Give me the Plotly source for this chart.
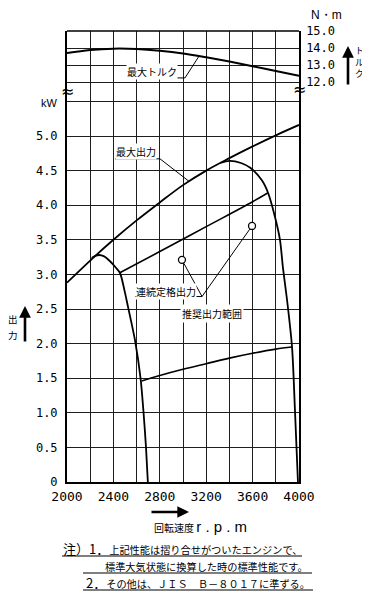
import numpy as np
import plotly.graph_objects as go

# ---------------- data ----------------
rpm = [2000, 2200, 2400, 2600, 2800, 3000, 3200, 3400, 3600, 3800, 4000]
torque_max = [13.70, 13.88, 13.96, 13.94, 13.84, 13.68, 13.45, 13.20, 12.93, 12.65, 12.36]
power_max = [2.88, 3.20, 3.50, 3.78, 4.04, 4.29, 4.50, 4.68, 4.85, 5.01, 5.16]

gov_low_rpm = [2213, 2250, 2276, 2320, 2371, 2420, 2457, 2494, 2526, 2586, 2634, 2660, 2681, 2697]
gov_low_kw = [3.24, 3.27, 3.28, 3.26, 3.19, 3.10, 3.02, 2.78, 2.53, 2.05, 1.50, 1.00, 0.50, 0.00]

gov_high_rpm = [3320, 3400, 3500, 3580, 3680, 3733, 3793, 3836, 3862, 3897, 3940, 3966, 3991]
gov_high_kw = [4.61, 4.64, 4.61, 4.54, 4.36, 4.18, 3.83, 3.50, 3.09, 2.63, 1.95, 1.00, 0.00]

rec_upper_rpm = [2451, 2800, 3200, 3600, 3733]
rec_upper_kw = [3.02, 3.33, 3.69, 4.05, 4.18]

rec_lower_rpm = [2643, 2800, 3000, 3200, 3400, 3600, 3800, 3940]
rec_lower_kw = [1.46, 1.54, 1.63, 1.71, 1.79, 1.86, 1.92, 1.95]

rated_rpm = [2991, 3595]
rated_kw = [3.21, 3.70]

kw_ticks = [0, 0.5, 1.0, 1.5, 2.0, 2.5, 3.0, 3.5, 4.0, 4.5, 5.0, 5.5]
kw_labels = ["0", "0.5", "1.0", "1.5", "2.0", "2.5", "3.0", "3.5", "4.0", "4.5", "5.0", ""]
nm_ticks = [12, 13, 14, 15]
nm_labels = ["12.0", "13.0", "14.0", "15.0"]
rpm_labels = ["2000", "", "2400", "", "2800", "", "3200", "", "3600", "", "4000"]

# ---------------- geometry helpers ----------------
BODY = 8                       # default page margin of the html body
L, R, T, B = 67, 299, 31, 482  # plot area in page pixels
W, H = 370, 599
PX_PER_RPM = (R - L) / 2000.0
PX_PER_KW = 69.2


def P(xp, yp):
    return (xp - L) / (R - L), (B - yp) / (B - T)


CJK = "Noto Sans CJK JP"
MONO = "DejaVu Sans Mono"

fig = go.Figure()

fig.add_trace(go.Scatter(x=rpm, y=torque_max, yaxis="y2", mode="lines",
                         line=dict(color="black", width=2, shape="spline"), hoverinfo="skip"))
fig.add_trace(go.Scatter(x=rpm, y=power_max, mode="lines",
                         line=dict(color="black", width=1.8, shape="spline"), hoverinfo="skip"))
fig.add_trace(go.Scatter(x=gov_low_rpm, y=gov_low_kw, mode="lines",
                         line=dict(color="black", width=1.8, shape="spline", smoothing=0.8), hoverinfo="skip"))
fig.add_trace(go.Scatter(x=gov_high_rpm, y=gov_high_kw, mode="lines",
                         line=dict(color="black", width=1.8, shape="spline", smoothing=0.8), hoverinfo="skip"))
fig.add_trace(go.Scatter(x=rec_upper_rpm, y=rec_upper_kw, mode="lines",
                         line=dict(color="black", width=1.6, shape="spline"), hoverinfo="skip"))
fig.add_trace(go.Scatter(x=rec_lower_rpm, y=rec_lower_kw, mode="lines",
                         line=dict(color="black", width=1.6, shape="spline"), hoverinfo="skip"))
fig.add_trace(go.Scatter(x=rated_rpm, y=rated_kw, mode="markers",
                         marker=dict(symbol="circle", size=7, color="white",
                                     line=dict(color="black", width=1.3)), hoverinfo="skip"))

THIN = dict(color="black", width=1)
shapes = []
# leader / underline for 最大トルク
tq_end = float(np.interp(3138, rpm, torque_max))
shapes.append(dict(type="line", xref="x", yref="y2", x0=2526, x1=3017, y0=12.24, y1=12.24, line=THIN))
shapes.append(dict(type="line", xref="x", yref="y2", x0=3017, x1=3138, y0=12.24, y1=tq_end, line=THIN))
# 最大出力
pw_end = float(np.interp(3052, rpm, power_max))
shapes.append(dict(type="line", xref="x", yref="y", x0=2414, x1=2802, y0=4.67, y1=4.67, line=THIN))
shapes.append(dict(type="line", xref="x", yref="y", x0=2802, x1=3052, y0=4.67, y1=pw_end, line=THIN))
# 連続定格出力
jx, jy = 3164, 2.68
shapes.append(dict(type="line", xref="x", yref="y", x0=2586, x1=jx, y0=jy, y1=jy, line=THIN))
for rx, ry in zip(rated_rpm, rated_kw):
    dxp = (rx - jx) * PX_PER_RPM
    dyp = (ry - jy) * PX_PER_KW
    d = np.hypot(dxp, dyp)
    f = (d - 4.0) / d  # stop at the edge of the circle marker
    shapes.append(dict(type="line", xref="x", yref="y", x0=jx, y0=jy,
                       x1=jx + (rx - jx) * f, y1=jy + (ry - jy) * f, line=THIN))
# 推奨出力範囲 underline
shapes.append(dict(type="line", xref="x", yref="y", x0=3000, x1=3509, y0=2.33, y1=2.33, line=THIN))
# top frame
shapes.append(dict(type="line", xref="paper", yref="paper", x0=0, x1=1, y0=1, y1=1,
                   line=dict(color="black", width=1.5)))
# note underlines
for x0p, x1p, yp in [(62, 302, 556), (83, 312, 573), (83, 313, 590)]:
    a = P(x0p, yp)
    b = P(x1p, yp)
    shapes.append(dict(type="line", xref="paper", yref="paper", x0=a[0], x1=b[0], y0=a[1], y1=b[1],
                       line=dict(color="black", width=1.2)))

ann = []


def text(xp, yp, t, size=11, family=CJK, xanchor="center", **kw):
    x, y = P(xp, yp)
    ann.append(dict(xref="paper", yref="paper", x=x, y=y, text=t, showarrow=False,
                    xanchor=xanchor, yanchor="middle",
                    font=dict(family=family, size=size, color="black"), **kw))


def arrow(xh, yh, ax, ay):
    x, y = P(xh, yh)
    ann.append(dict(xref="paper", yref="paper", x=x, y=y, text="", showarrow=True,
                    ax=ax, ay=ay, arrowhead=2, arrowsize=0.9, arrowwidth=2.6, arrowcolor="black"))


# axis titles
text(49, 103, "kW", size=11, family="Liberation Sans")
text(13, 319, "出", size=9.5)
text(13, 335, "力", size=9.5)
arrow(25, 306, 0, 37)
text(326, 15, "N・m", size=12, family="Liberation Sans")
text(359, 62, "ト<br>ル<br>ク", size=9)
arrow(348, 46, 0, 40)
arrow(189, 512, -39, 0)
text(152, 526, '回転速度 <span style="font-size:15px;font-family:Liberation Sans">r . p . m</span>',
     size=10, xanchor="left")
# break marks
text(67, 91, "≈", size=16, family="DejaVu Sans")
text(299, 89, "≈", size=16, family="DejaVu Sans")

# notes
text(61, 548, '<span style="font-size:13px">注）1．</span>上記性能は摺り合せがついたエンジンで、',
     size=10.2, xanchor="left")
text(103, 566, "標準大気状態に換算した時の標準性能です。", size=10.2, xanchor="left")
text(84, 582, '<span style="font-size:13px">2．</span>その他は、ＪＩＳ　Ｂ－８０１７に準ずる。',
     size=10.2, xanchor="left")

# curve labels (data coordinates)
ann.append(dict(xref="x", yref="y2", x=2733, y=12.59, text="最大トルク", showarrow=False,
                font=dict(family=CJK, size=10, color="black"), bgcolor="white", borderpad=0))
ann.append(dict(xref="x", yref="y", x=2595, y=4.77, text="最大出力", showarrow=False,
                font=dict(family=CJK, size=10, color="black"), bgcolor="white", borderpad=0))
ann.append(dict(xref="x", yref="y", x=2853, y=2.75, text="連続定格出力", showarrow=False,
                font=dict(family=CJK, size=10, color="black"), bgcolor="white", borderpad=0))
ann.append(dict(xref="x", yref="y", x=3250, y=2.43, text="推奨出力範囲", showarrow=False,
                font=dict(family=CJK, size=10, color="black"), bgcolor="white", borderpad=1))

grid = "#1e1e1e"
fig.update_layout(
    width=W - BODY, height=H - BODY,
    margin=dict(l=L - BODY, r=W - R, t=T - BODY, b=H - B, pad=0),
    paper_bgcolor="white", plot_bgcolor="white",
    showlegend=False,
    xaxis=dict(range=[2000, 4000], tickvals=rpm, ticktext=rpm_labels, showgrid=True,
               gridcolor=grid, gridwidth=1, showline=True, linecolor="black", linewidth=2,
               zeroline=False, ticks="", ticklabelstandoff=1,
               tickfont=dict(family=MONO, size=13, color="black")),
    yaxis=dict(range=[0, (B - T) / PX_PER_KW], tickvals=kw_ticks, ticktext=kw_labels, showgrid=True,
               gridcolor=grid, gridwidth=1, showline=True, linecolor="black", linewidth=2,
               zeroline=False, ticks="", ticklabelstandoff=5,
               tickfont=dict(family=MONO, size=12, color="black")),
    yaxis2=dict(overlaying="y", side="right", range=[15 - (B - T) / 17.0, 15.0], tickvals=nm_ticks,
                ticktext=nm_labels, showgrid=True, gridcolor=grid, gridwidth=1, showline=True,
                linecolor="black", linewidth=1.5, zeroline=False, ticks="", ticklabelstandoff=3,
                tickfont=dict(family=MONO, size=12, color="black")),
    shapes=shapes,
    annotations=ann,
)

fig.write_html("out.html")
